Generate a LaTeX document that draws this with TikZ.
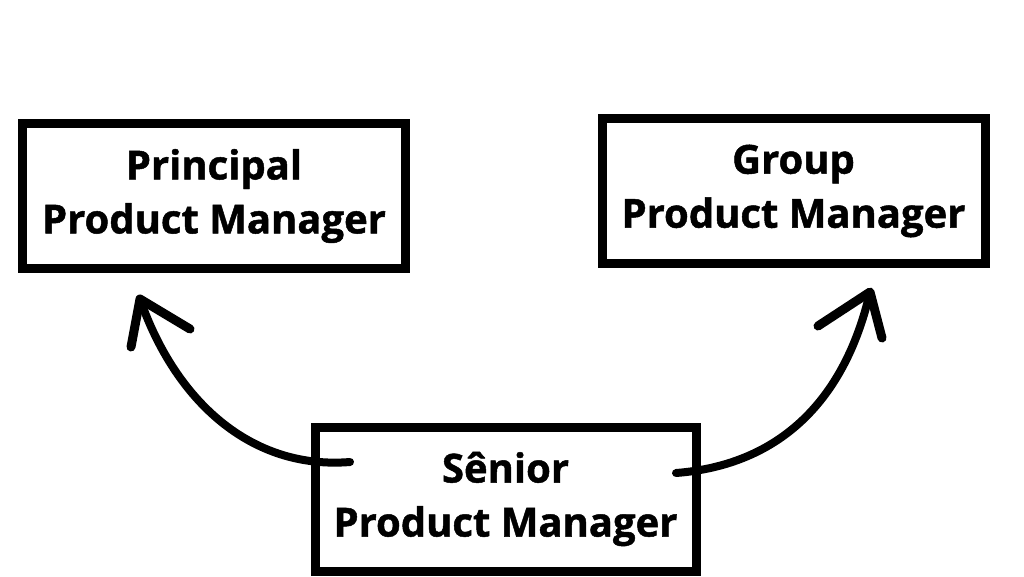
\documentclass[tikz,border=0pt]{standalone}
\usepackage{fontspec}
\setmainfont{Open Sans}[BoldFeatures={FakeBold=1.2}]
\begin{document}
\begin{tikzpicture}[x=1pt,y=-1pt,
  rolebox/.style={draw=black, line width=9pt, fill=white, minimum width=383pt, minimum height=145pt, inner sep=0pt, outer sep=0pt, align=center, font=\fontsize{40}{54}\selectfont\bfseries},
  brush/.style={draw=black, line width=8pt, line cap=round, line join=round},
  barb/.style={draw=black, line width=9pt, line cap=round, line join=round}]
\fill[white] (0,0) rectangle (1024,576);
\useasboundingbox (0,0) rectangle (1024,576);
\node[rolebox] (p) at (214,196) {Principal\\Product Manager};
\node[rolebox] (g) at (793.5,191) {Group\\Product Manager};
\node[rolebox, minimum width=381pt, minimum height=144pt] (s) at (505.5,499) {Sênior\\Product Manager};
\coordinate (tailL) at (350,462);
\coordinate (tipL) at (140,299);
\coordinate (tailR) at (676,473);
\coordinate (tipR) at (870,292);
\draw[brush] (tailL) .. controls (250,470) and (175,400) .. (tipL);
\draw[barb] (131,347) -- (tipL) -- (190,329);
\draw[brush] (tailR) .. controls (780,465) and (845,400) .. (tipR);
\draw[barb] (818,326) -- (tipR) -- (882,338);
\end{tikzpicture}
\end{document}
